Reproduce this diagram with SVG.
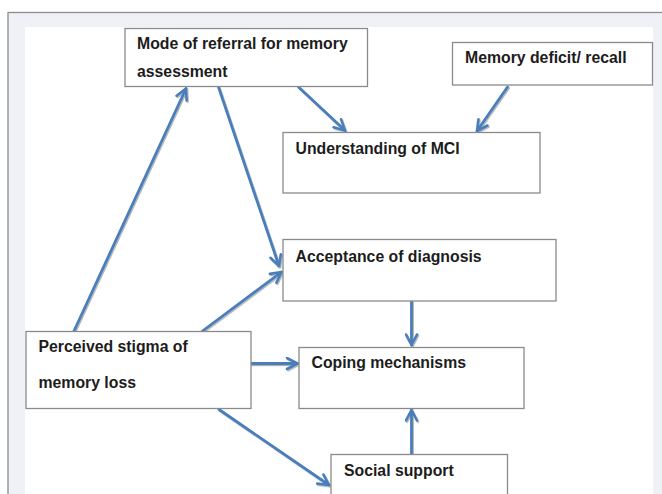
<svg xmlns="http://www.w3.org/2000/svg" width="662" height="494" viewBox="0 0 662 494">
<defs>
<style>
.box{fill:#fff;stroke:#8a8a8a;stroke-width:1.3}
.lbl{font-family:"Liberation Sans",Arial,sans-serif;font-weight:bold;font-size:15.8px;fill:#1c1c1c}
.con{fill:none;stroke:#4a7ebb;stroke-width:2.8;stroke-linecap:round}
</style>
<marker id="ah" viewBox="0 0 14 14" refX="12.5" refY="7" markerWidth="14" markerHeight="14" markerUnits="userSpaceOnUse" orient="auto">
<path d="M2,1.5 L12.5,7 L2,12.5" fill="none" stroke="#4a7ebb" stroke-width="2.6" stroke-linecap="round" stroke-linejoin="round"/>
</marker>
<filter id="sh" x="-10%" y="-10%" width="120%" height="120%">
<feDropShadow dx="1" dy="1.2" stdDeviation="0.7" flood-color="#000" flood-opacity="0.3"/>
</filter>
</defs>
<rect x="0" y="0" width="662" height="494" fill="#fff"/>
<rect x="8" y="12.5" width="660" height="490" fill="#eff1f7" stroke="#8c8c8c" stroke-width="1.3"/>
<rect x="25" y="27" width="628" height="470" fill="#fff"/>

<g id="connectors" filter="url(#sh)">
<line class="con" x1="298.5" y1="87" x2="345" y2="130.5" marker-end="url(#ah)"/>
<line class="con" x1="507.5" y1="87" x2="477" y2="131" marker-end="url(#ah)"/>
<line class="con" x1="74" y1="331" x2="186" y2="88.5" marker-end="url(#ah)"/>
<line class="con" x1="218.5" y1="87" x2="279" y2="266" marker-end="url(#ah)"/>
<line class="con" x1="202.5" y1="331" x2="281.5" y2="272" marker-end="url(#ah)"/>
<line class="con" x1="411.5" y1="301" x2="411.5" y2="345" marker-end="url(#ah)"/>
<line class="con" x1="251" y1="363.5" x2="297.5" y2="363.5" marker-end="url(#ah)"/>
<line class="con" x1="219" y1="409.5" x2="329" y2="485" marker-end="url(#ah)"/>
<line class="con" x1="411.5" y1="454" x2="411.5" y2="410" marker-end="url(#ah)"/>
</g>

<g id="mode">
<rect class="box" x="125" y="28.5" width="242.5" height="58"/>
<text class="lbl" x="137" y="49">Mode of referral for memory</text>
<text class="lbl" x="137" y="77">assessment</text>
</g>
<g id="deficit">
<rect class="box" x="452.5" y="42.5" width="200" height="42.5"/>
<text class="lbl" x="465" y="62.5">Memory deficit/ recall</text>
</g>
<g id="understanding">
<rect class="box" x="283" y="132.5" width="257" height="60.5"/>
<text class="lbl" x="295.5" y="154">Understanding of MCI</text>
</g>
<g id="acceptance">
<rect class="box" x="283" y="239.5" width="273" height="61.5"/>
<text class="lbl" x="295.5" y="261.5">Acceptance of diagnosis</text>
</g>
<g id="stigma">
<rect class="box" x="26" y="331.5" width="225" height="77"/>
<text class="lbl" x="38.5" y="352">Perceived stigma of</text>
<text class="lbl" x="38.5" y="388">memory loss</text>
</g>
<g id="coping">
<rect class="box" x="299" y="347.5" width="225" height="61"/>
<text class="lbl" x="311.5" y="368">Coping mechanisms</text>
</g>
<g id="social">
<rect class="box" x="331" y="454.5" width="176.5" height="50"/>
<text class="lbl" x="344" y="476">Social support</text>
</g>
</svg>
